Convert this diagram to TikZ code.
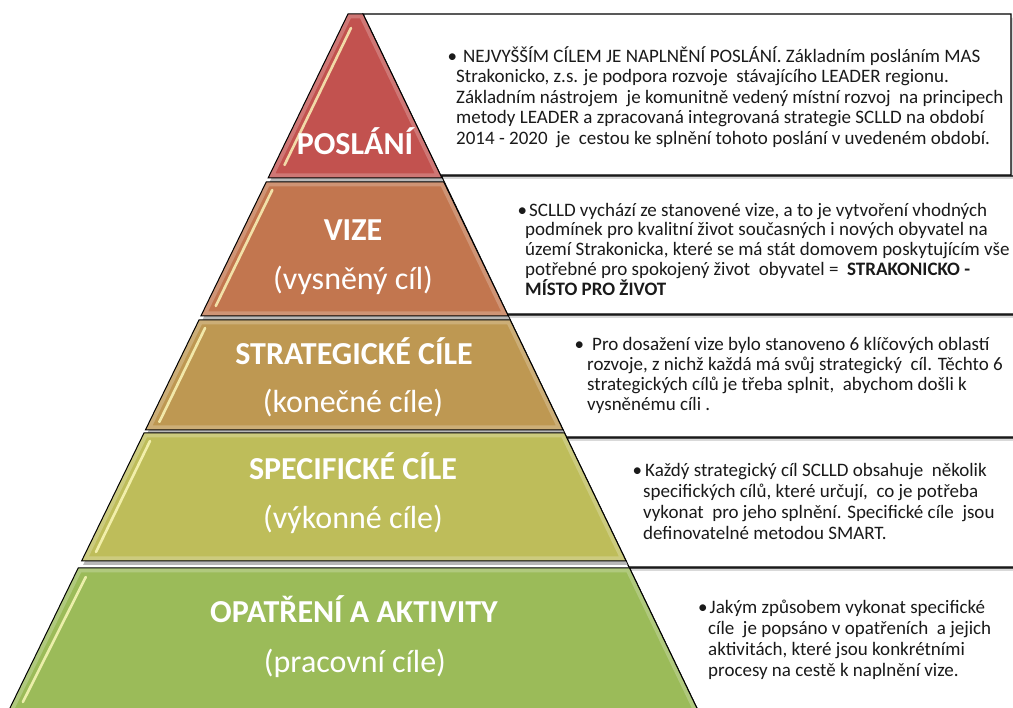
\documentclass[tikz,border=0pt]{standalone}
\usepackage{fontspec}
\setmainfont{Carlito}
\definecolor{cA}{HTML}{C2524F}
\definecolor{cB}{HTML}{C2764F}
\definecolor{cC}{HTML}{BE9852}
\definecolor{cD}{HTML}{BEBD5A}
\definecolor{cE}{HTML}{9BBB59}
\definecolor{bodytext}{HTML}{1A1A1A}
\newcommand\bl[1]{\makebox[0pt][r]{•\hspace{#1}}}
\newcommand\tallstrut{\rule{0pt}{20pt}}
\def\layA{(348,14) -- (363,14) -- (441.9,178) -- (268.1,178) -- cycle}
\def\layB{(266.2,182) -- (443.8,182) -- (508.3,316) -- (200.9,316) -- cycle}
\def\layC{(199.0,320) -- (510.2,320) -- (563.1,430) -- (145.4,430) -- cycle}
\def\layD{(144.0,433) -- (564.5,433) -- (626.1,561) -- (81.6,561) -- cycle}
\def\layE{(78.2,568) -- (629.5,568) -- (702.1,719) -- (4.6,719) -- cycle}
\def\boxA{(363,14) -- (1011,14) -- (1011,175) -- (440.4,175) -- cycle}
\def\boxB{(441.4,176) -- (1030,176) -- (1030,314) -- (507.3,314) -- cycle}
\def\boxC{(507.8,315) -- (1030,315) -- (1030,437) -- (566.5,437) -- cycle}
\def\boxD{(566.9,438) -- (1030,438) -- (1030,567) -- (629.0,567) -- cycle}
\def\boxE{(629.5,568) -- (1030,568) -- (1030,720) -- (702.6,720) -- cycle}
\begin{document}
\begin{tikzpicture}[x=1pt,y=-1pt,
  boxshape/.style={fill=white, draw=black, line width=1.2pt},
  boxshadow/.style={fill=black, opacity=0.15},
  layershadow/.style={fill=black!28},
  layeredge/.style={draw=black, line width=1pt, line join=miter},
  innerglow/.style={draw=white, line width=9pt, opacity=0.22},
  gloss/.style={line width=2.6pt, draw=white!75!yellow, opacity=0.8, line cap=round},
  title/.style={text=white, font=\fontsize{32}{36}\selectfont\bfseries, inner sep=0pt, anchor=base},
  subtitle/.style={text=white, font=\fontsize{32}{36}\selectfont, inner sep=0pt, anchor=base},
  body/.style={text=bodytext, align=left, anchor=north west, inner sep=0pt}
]
\useasboundingbox (0,0) rectangle (1013,708);
\fill[white] (0,0) rectangle (1013,708);

% text boxes, bottom first
\foreach \b in {\boxE,\boxD,\boxC,\boxB,\boxA}{
  \begin{scope}[shift={(2,4)}]\fill[boxshadow] \b;\end{scope}
  \path[boxshape] \b;
}

% pyramid layers
\foreach \l/\c in {\layA/cA,\layB/cB,\layC/cC,\layD/cD,\layE/cE}{
  \begin{scope}[shift={(1.5,4)}]\fill[layershadow] \l;\end{scope}
  \fill[\c] \l;
  \begin{scope}\clip \l; \draw[innerglow] \l;\end{scope}
  \draw[layeredge] \l;
}

% gloss highlights
\draw[gloss] (351,28) -- (284.5,165);
\draw[gloss] (272.3,190) -- (215.8,306);
\draw[gloss] (205.1,328) -- (159.3,422);
\draw[gloss] (150,441) -- (96,552);
\draw[gloss] (85.8,577) -- (22.9,702);

% titles
\node[title] (t1) at (355,155) {POSLÁNÍ};
\node[title] (t2) at (353,241) {VIZE};
\node[subtitle] (s2) at (353,290) {(vysněný cíl)};
\node[title] (t3) at (354,365) {STRATEGICKÉ CÍLE};
\node[subtitle] (s3) at (353,413) {(konečné cíle)};
\node[title] (t4) at (353,480) {SPECIFICKÉ CÍLE};
\node[subtitle] (s4) at (353,529) {(výkonné cíle)};
\node[title] (t5) at (354,623) {OPATŘENÍ A AKTIVITY};
\node[subtitle] (s5) at (355,672) {(pracovní cíle)};

% body texts
\node[body, font=\fontsize{19}{20.5}\selectfont] (d1) at (456,42) {\tallstrut\bl{-1pt}\hspace{7pt}NEJVYŠŠÍM CÍLEM JE NAPLNĚNÍ POSLÁNÍ. Základním posláním MAS\\
Strakonicko, z.s. je podpora rozvoje\ \ stávajícího LEADER regionu.\\
Základním nástrojem\ \ je komunitně vedený místní rozvoj\ \ na principech\\
metody LEADER a zpracovaná integrovaná strategie SCLLD na období\\
2014 - 2020\ \ je\ \ cestou ke splnění tohoto poslání v uvedeném období.};

\node[body, font=\fontsize{19}{19.75}\selectfont] (d2) at (525,196) {\tallstrut\bl{-2pt}\hspace{4pt}SCLLD vychází ze stanovené vize, a to je vytvoření vhodných\\
podmínek pro kvalitní život současných i nových obyvatel na\\
území Strakonicka, které se má stát domovem poskytujícím vše\\
potřebné pro spokojený život\ \ obyvatel =\ \ \textbf{STRAKONICKO -}\\
\textbf{MÍSTO PRO ŽIVOT}};

\node[body, font=\fontsize{19}{20}\selectfont] (d3) at (587,330) {\tallstrut\bl{3pt}\hspace{5pt}Pro dosažení vize bylo stanoveno 6 klíčových oblastí\\
rozvoje, z nichž každá má svůj strategický\ \ cíl. Těchto 6\\
strategických cílů je třeba splnit,\ \ abychom došli k\\
vysněnému cíli .};

\node[body, font=\fontsize{19}{21}\selectfont] (d4) at (643,456.5) {\tallstrut\bl{1pt}\hspace{2pt}Každý strategický cíl SCLLD obsahuje\ \ několik\\
specifických cílů, které určují,\ \ co je potřeba\\
vykonat\ \ pro jeho splnění. Specifické cíle\ \ jsou\\
definovatelné metodou SMART.};

\node[body, font=\fontsize{19}{21}\selectfont] (d5) at (708,593) {\tallstrut\bl{0.5pt}\hspace{1.5pt}Jakým způsobem vykonat specifické\\
cíle\ \ je popsáno v opatřeních\ \ a jejich\\
aktivitách, které jsou konkrétními\\
procesy na cestě k naplnění vize.};
\end{tikzpicture}
\end{document}
